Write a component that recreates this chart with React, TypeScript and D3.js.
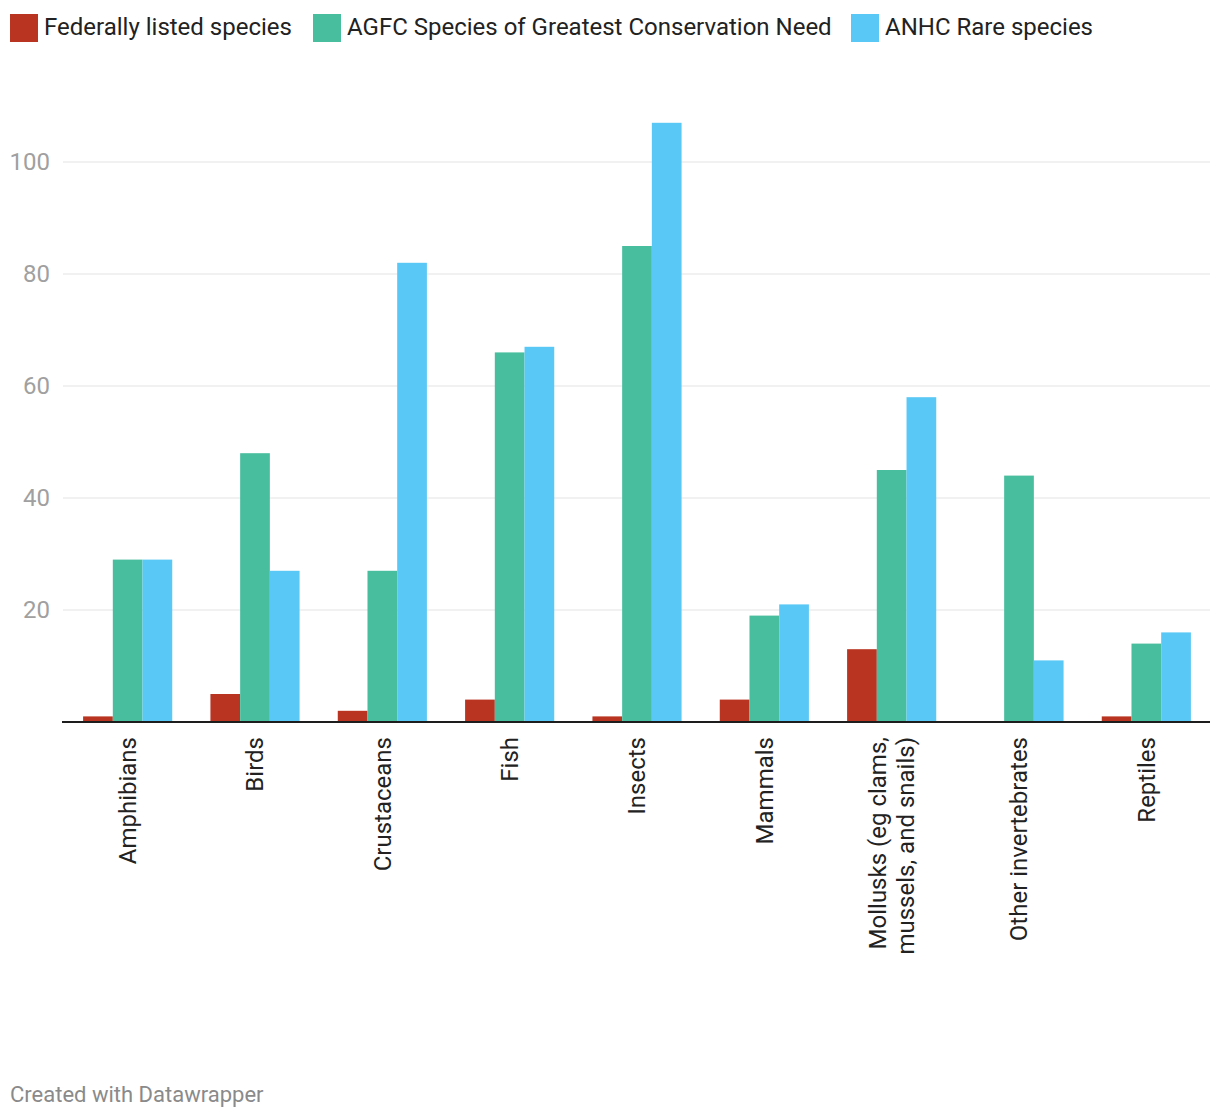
import React from "react";
import * as d3 from "d3";

const categories = [
  "Amphibians",
  "Birds",
  "Crustaceans",
  "Fish",
  "Insects",
  "Mammals",
  "Mollusks (eg clams,\nmussels, and snails)",
  "Other invertebrates",
  "Reptiles",
];
const seriesNames = [
  "Federally listed species",
  "AGFC Species of Greatest Conservation Need",
  "ANHC Rare species",
];
const federal = [1, 5, 2, 4, 1, 4, 13, 0, 1];
const agfc = [29, 48, 27, 66, 85, 19, 45, 44, 14];
const anhc = [29, 27, 82, 67, 107, 21, 58, 11, 16];
const yTicks = [20, 40, 60, 80, 100];
const colors = ["#b93421", "#49be9f", "#5ac8f6"];

const W = 1220;
const H = 1120;
const FONT = "Roboto, 'Noto Sans', sans-serif";

export default function App() {
  const series = [federal, agfc, anhc];
  const x = d3
    .scaleBand<string>()
    .domain(categories)
    .range([64, 1210])
    .paddingInner(0.3)
    .paddingOuter(0.15);
  const xs = d3
    .scaleBand<number>()
    .domain([0, 1, 2])
    .range([0, x.bandwidth()]);
  const y = d3.scaleLinear().domain([0, 100]).range([722, 162]);

  const legendX = [10, 313, 851];

  return (
    <div style={{ position: "absolute", left: 0, top: 0 }}>
      <svg width={W} height={H} style={{ display: "block", fontFamily: FONT }}>
        <rect width={W} height={H} fill="#fff" />
        {/* legend */}
        {seriesNames.map((s, i) => (
          <g key={s}>
            <rect x={legendX[i]} y={14} width={28} height={28} fill={colors[i]} />
            <text x={legendX[i] + 34} y={35} fontSize={24} fill="#222">
              {s}
            </text>
          </g>
        ))}
        {/* grid */}
        {yTicks.map((t) => (
          <g key={t}>
            <line x1={63} x2={1210} y1={y(t)} y2={y(t)} stroke="#e3e3e3" strokeWidth={1} />
            <text x={50} y={y(t)} dy="0.35em" textAnchor="end" fontSize={24} fill="#a0a0a0">
              {t}
            </text>
          </g>
        ))}
        {/* bars */}
        {categories.map((c, ci) => (
          <g key={c} transform={`translate(${x(c)},0)`}>
            {series.map((vals, si) =>
              vals[ci] > 0 ? (
                <rect
                  key={si}
                  x={xs(si)}
                  y={y(vals[ci])}
                  width={xs.bandwidth()}
                  height={y(0) - y(vals[ci])}
                  fill={colors[si]}
                />
              ) : null
            )}
          </g>
        ))}
        {/* baseline */}
        <line x1={62} x2={1210} y1={y(0)} y2={y(0)} stroke="#1d1d1d" strokeWidth={2} />
        {/* category labels */}
        {categories.map((c) => {
          const cx = (x(c) as number) + x.bandwidth() / 2;
          const lines = c.split("\n");
          const lh = 1.17;
          return (
            <text
              key={c}
              transform={`translate(${cx},737) rotate(-90)`}
              textAnchor="end"
              fontSize={24}
              fill="#222"
            >
              {lines.map((l, li) => (
                <tspan
                  key={li}
                  x={0}
                  dy={
                    li === 0
                      ? `${0.35 - ((lines.length - 1) * lh) / 2}em`
                      : `${lh}em`
                  }
                >
                  {l}
                </tspan>
              ))}
            </text>
          );
        })}
        {/* footer */}
        <text x={10} y={1102} fontSize={22} fill="#8a8a8a">
          Created with Datawrapper
        </text>
      </svg>
    </div>
  );
}
